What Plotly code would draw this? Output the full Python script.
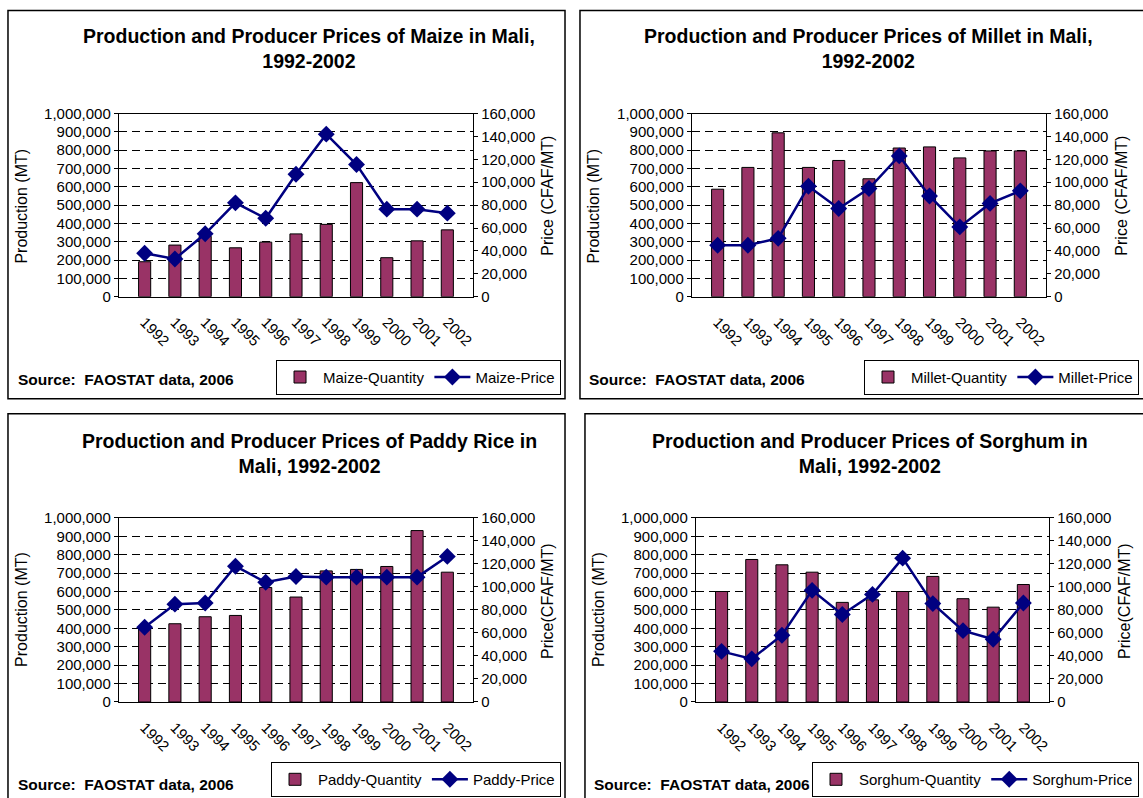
import plotly.graph_objects as go

years = ["1992", "1993", "1994", "1995", "1996", "1997", "1998", "1999", "2000", "2001", "2002"]

maize_qty = [191000, 282000, 330000, 267000, 298000, 343000, 395000, 623000, 213000, 305000, 365000]
maize_price = [38000, 33000, 55000, 82000, 68500, 107000, 142000, 115500, 76500, 76500, 73000]

millet_qty = [587000, 706000, 895000, 706000, 744000, 644000, 812000, 818000, 758000, 796000, 796000]
millet_price = [45000, 45000, 51000, 96500, 77000, 94500, 123000, 88000, 61000, 81500, 92500]

paddy_qty = [405000, 425000, 463000, 470000, 622000, 570000, 712000, 720000, 736000, 931000, 705000]
paddy_price = [65000, 85000, 86000, 118000, 104000, 109000, 108500, 108500, 108500, 108500, 126500]

sorghum_qty = [600000, 774000, 745000, 705000, 541000, 555000, 600000, 682000, 561000, 515000, 638000]
sorghum_price = [44000, 37500, 58000, 97000, 76000, 93500, 125000, 85500, 62000, 54500, 86000]

titles = [
    "Production and Producer Prices of Maize in Mali,<br>1992-2002",
    "Production and Producer Prices of Millet in Mali,<br>1992-2002",
    "Production and Producer Prices of Paddy Rice in<br>Mali, 1992-2002",
    "Production and Producer Prices of Sorghum in<br>Mali, 1992-2002",
]
qty_names = ["Maize-Quantity", "Millet-Quantity", "Paddy-Quantity", "Sorghum-Quantity"]
price_names = ["Maize-Price", "Millet-Price", "Paddy-Price", "Sorghum-Price"]
right_titles = ["Price (CFAF/MT)", "Price (CFAF/MT)", "Price(CFAF/MT)", "Price(CFAF/MT)"]
left_title = "Production (MT)"
source_text = "Source:&nbsp; FAOSTAT data, 2006"
qtys = [maize_qty, millet_qty, paddy_qty, sorghum_qty]
prices = [maize_price, millet_price, paddy_price, sorghum_price]

W, H = 1143, 798
FONT = "Liberation Sans, Arial, sans-serif"
BAR = "#993366"
LINE = "#000080"

# vertical calibration of the capture (observed offset/scale)
Y_OFF, Y_SCALE = 8.5, 0.978


def px(x):
    return x / W


def py(y):
    return 1 - ((y - Y_OFF) / Y_SCALE) / H


# layout geometry (target pixels)
panels = [
    dict(box=(8, 10, 566, 398), plot=(119, 113, 474, 296), title=(310, 48),
         ltitle=(22, 205), rtitle=(549, 195), source=(16, 379), legend=(562, 394)),
    dict(box=(581, 10, 1160, 398), plot=(693, 113, 1048, 296), title=(870, 48),
         ltitle=(595, 205), rtitle=(1124, 195), source=(588, 379), legend=(1141, 394)),
    dict(box=(8, 413, 566, 830), plot=(119, 517, 474, 701), title=(310, 453),
         ltitle=(22, 608), rtitle=(549, 600), source=(16, 783), legend=(562, 796)),
    dict(box=(586, 413, 1160, 830), plot=(697, 517, 1051, 701), title=(872, 453),
         ltitle=(600, 608), rtitle=(1127, 600), source=(593, 783), legend=(1141, 796)),
]

fig = go.Figure()
layout = dict(
    width=W, height=H, margin=dict(l=0, r=0, t=0, b=0),
    paper_bgcolor="white", plot_bgcolor="white",
    font=dict(family=FONT, size=15, color="black"),
    bargap=0.6, showlegend=True,
)
shapes = []
annotations = []

for i, p in enumerate(panels):
    n = i + 1
    xa = "x" if n == 1 else f"x{n}"
    ya = "y" if n == 1 else f"y{n}"
    yr = f"y{n + 4}"
    leg = "legend" if n == 1 else f"legend{n}"

    fig.add_trace(go.Bar(
        x=years, y=qtys[i], name=qty_names[i], xaxis=xa, yaxis=ya,
        marker=dict(color=BAR, line=dict(color="black", width=1)),
        legend=leg,
    ))
    fig.add_trace(go.Scatter(
        x=years, y=prices[i], name=price_names[i], xaxis=xa, yaxis=yr,
        mode="lines+markers", line=dict(color=LINE, width=2.5),
        marker=dict(symbol="diamond", size=13, color=LINE),
        legend=leg,
    ))

    x0, y0, x1, y1 = p["plot"]
    layout["xaxis" if n == 1 else f"xaxis{n}"] = dict(
        domain=[px(x0), px(x1)], anchor=ya, type="category",
        showline=True, linecolor="black", linewidth=1, mirror=True,
        ticks="", tickangle=45, tickfont=dict(size=15),
        ticklabelstandoff=10, showgrid=False, fixedrange=True,
    )
    layout["yaxis" if n == 1 else f"yaxis{n}"] = dict(
        domain=[py(y1), py(y0)], anchor=xa, range=[0, 1000000], dtick=100000,
        tickformat=",d", showline=True, linecolor="black", linewidth=1,
        ticks="outside", ticklen=4, tickcolor="black",
        showgrid=True, gridcolor="black", griddash="8px,5px", gridwidth=1,
        zeroline=False, tickfont=dict(size=15), fixedrange=True,
    )
    layout[f"yaxis{n + 4}"] = dict(
        overlaying=ya, anchor=xa, side="right", range=[0, 160000], dtick=20000,
        tickformat=",d", showline=True, linecolor="black", linewidth=1,
        ticks="outside", ticklen=4, tickcolor="black", showgrid=False,
        zeroline=False, tickfont=dict(size=15), fixedrange=True,
    )
    lx, ly = p["legend"]
    layout[leg] = dict(
        x=px(lx), y=py(ly), xanchor="right", yanchor="bottom",
        orientation="h", bordercolor="black", borderwidth=1, bgcolor="white",
        font=dict(size=15), traceorder="normal", itemwidth=36,
        tracegroupgap=0,
    )

    bx0, by0, bx1, by1 = p["box"]
    shapes.append(dict(type="rect", xref="paper", yref="paper",
                       x0=px(bx0), x1=px(bx1), y0=py(by1), y1=py(by0),
                       line=dict(color="black", width=1.5), layer="below"))

    tx, ty = p["title"]
    annotations.append(dict(text="<b>" + titles[i] + "</b>", x=px(tx), y=py(ty),
                            xref="paper", yref="paper", showarrow=False,
                            font=dict(size=19.5), xanchor="center", yanchor="middle"))
    lx2, ly2 = p["ltitle"]
    annotations.append(dict(text=left_title, x=px(lx2), y=py(ly2), xref="paper", yref="paper",
                            showarrow=False, textangle=-90, font=dict(size=16),
                            xanchor="center", yanchor="middle"))
    rx, ry = p["rtitle"]
    annotations.append(dict(text=right_titles[i], x=px(rx), y=py(ry), xref="paper", yref="paper",
                            showarrow=False, textangle=-90, font=dict(size=16),
                            xanchor="center", yanchor="middle"))
    sx, sy = p["source"]
    annotations.append(dict(text="<b>" + source_text + "</b>", x=px(sx), y=py(sy),
                            xref="paper", yref="paper", showarrow=False,
                            font=dict(size=15.5), xanchor="left", yanchor="middle"))

layout["shapes"] = shapes
layout["annotations"] = annotations
fig.update_layout(**layout)

post = (
    "document.documentElement.style.margin='0';"
    "document.body.style.margin='0';document.body.style.overflow='hidden';"
    "var d=document.getElementById('{plot_id}');"
    "d.style.position='fixed';d.style.left='0px';d.style.top='0px';"
)
fig.write_html("out.html", config={"displayModeBar": False}, post_script=post)
